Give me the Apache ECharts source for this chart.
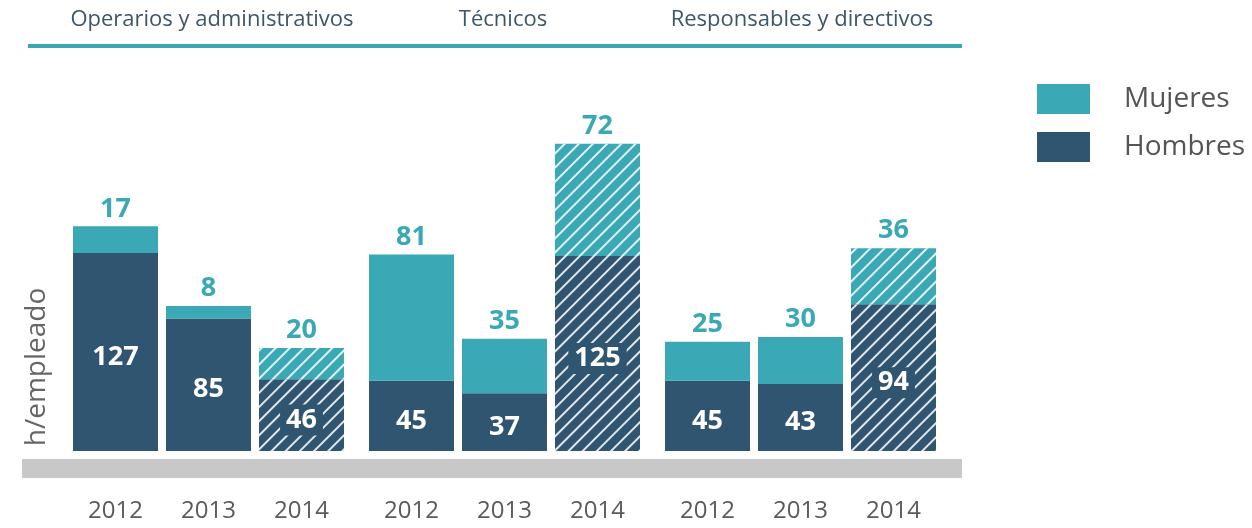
<!DOCTYPE html>
<html>
<head>
<meta charset="utf-8">
<script src="https://cdn.jsdelivr.net/npm/echarts@6/dist/echarts.min.js"></script>
<style>
  html, body { margin: 0; padding: 0; background: #ffffff; }
  #chart { width: 1252px; height: 528px; }
</style>
</head>
<body>
<div id="chart"></div>
<script>
// Hours of training per employee, by professional group, year and sex
const groups = ['Operarios y administrativos', 'Técnicos', 'Responsables y directivos'];
const years = ['2012', '2013', '2014'];
const hombres = [
  [127, 85, 46],
  [45, 37, 125],
  [45, 43, 94]
];
const mujeres = [
  [17, 8, 20],
  [81, 35, 72],
  [25, 30, 36]
];
const hatchedYear = '2014';

const TEAL = '#3aa9b5';
const NAVY = '#2f5571';
const FONT = '"Open Sans", "Noto Sans", sans-serif';

// diagonal white stripes for the latest year
const hatch = {
  symbol: 'rect',
  symbolSize: 1,
  color: 'rgba(255,255,255,0.85)',
  backgroundColor: 'rgba(0,0,0,0)',
  dashArrayX: [10, 0],
  dashArrayY: [1.6, 7.8],
  rotation: -Math.PI / 4
};

const gridLefts = [69, 365, 661];
const gridWidth = 279;

const grids = [], xAxes = [], yAxes = [], series = [];
groups.forEach((g, gi) => {
  grids.push({ left: gridLefts[gi], width: gridWidth, top: 139, bottom: 77 });
  xAxes.push({
    type: 'category', gridIndex: gi, data: years,
    axisLine: { show: false }, axisTick: { show: false },
    axisLabel: { color: '#5a5a5a', fontSize: 24, fontFamily: FONT, margin: 48 }
  });
  yAxes.push({
    type: 'value', gridIndex: gi, min: 0, max: 200,
    show: false, splitLine: { show: false }
  });
  const dec = (arr) => arr.map((v, i) => years[i] === hatchedYear
    ? { value: v, itemStyle: { decal: hatch } } : v);
  series.push({
    name: 'Hombres', type: 'bar', stack: 'g' + gi,
    xAxisIndex: gi, yAxisIndex: gi, barWidth: 85,
    itemStyle: { color: NAVY },
    data: dec(hombres[gi]),
    label: {
      show: true, position: 'inside', offset: [0, 5], color: '#ffffff',
      fontSize: 27, fontWeight: 'bold', fontFamily: FONT,
      backgroundColor: NAVY, padding: [2, 6]
    }
  });
  series.push({
    name: 'Mujeres', type: 'bar', stack: 'g' + gi,
    xAxisIndex: gi, yAxisIndex: gi, barWidth: 85,
    itemStyle: { color: TEAL },
    data: dec(mujeres[gi]),
    label: {
      show: true, position: 'top', distance: 4, color: TEAL,
      fontSize: 27, fontWeight: 'bold', fontFamily: FONT
    }
  });
});

const headerCenters = [212, 503, 802];
const graphic = [
  { type: 'rect', shape: { x: 28, y: 44, width: 934, height: 4 }, style: { fill: '#3aa6b1' }, z: 1 },
  { type: 'rect', shape: { x: 22, y: 459, width: 940, height: 19 }, style: { fill: '#c8c8c8' }, z: 1 },
  {
    type: 'text', x: 37, y: 367, rotation: Math.PI / 2,
    style: { text: 'h/empleado', fill: '#666666', fontSize: 28, fontFamily: FONT, align: 'center', verticalAlign: 'middle' }
  }
].concat(groups.map((g, i) => ({
  type: 'text', x: headerCenters[i], y: 20,
  style: { text: g, fill: '#3e5668', fontSize: 22, fontFamily: FONT, align: 'center', verticalAlign: 'middle' }
})));

const chart = echarts.init(document.getElementById('chart'), null, { renderer: 'canvas' });
chart.setOption({
  animation: false,
  legend: {
    data: ['Mujeres', 'Hombres'], orient: 'vertical',
    left: 1032, top: 79, itemWidth: 53, itemHeight: 30, itemGap: 18,
    icon: 'rect', selectedMode: false,
    textStyle: { color: '#555555', fontSize: 28, fontFamily: FONT, padding: [0, 0, 0, 29] }
  },
  grid: grids, xAxis: xAxes, yAxis: yAxes, series: series, graphic: graphic
});
</script>
</body>
</html>
